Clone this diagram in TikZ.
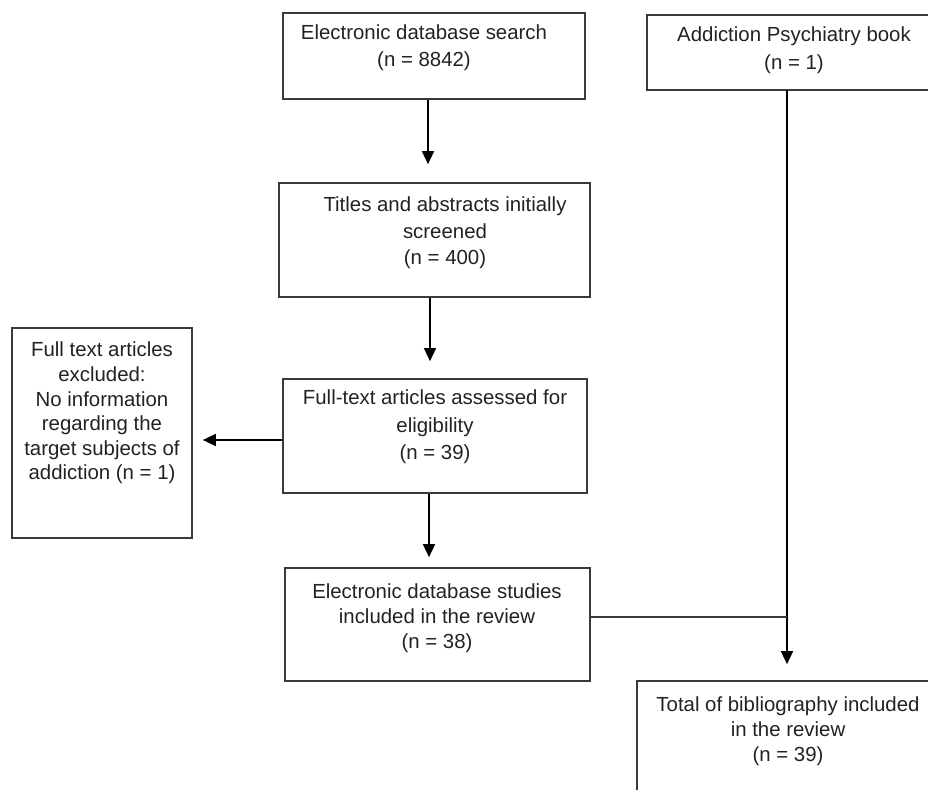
\documentclass[tikz,border=0pt]{standalone}
\usepackage{fontspec}
\setmainfont{Liberation Sans}
\usetikzlibrary{arrows.meta}
\definecolor{boxline}{HTML}{3A3A3A}
\definecolor{txt}{HTML}{222222}
\tikzset{
  box/.style={draw=boxline, line width=1.7pt, inner sep=0pt, fill=none},
  lbl/.style={anchor=north, align=center, inner sep=0pt, text=txt,
    font=\fontsize{20.4}{26.5}\selectfont},
  arr/.style={draw=black, line width=1.6pt, -{Triangle[width=12pt,length=13pt]}},
  link/.style={draw=boxline, line width=1.1pt}
}
\begin{document}
\begin{tikzpicture}[x=1pt,y=-1pt]
\useasboundingbox (0,0) rectangle (928,789);
\clip (0,0) rectangle (928,789);
% boxes
\node[box, minimum width=302pt, minimum height=86pt] (b1) at (434,56) {};
\node[box, minimum width=311pt, minimum height=114pt] (b2) at (434.5,240) {};
\node[box, minimum width=304pt, minimum height=114pt] (b3) at (435,436) {};
\node[box, minimum width=305pt, minimum height=113pt] (b4) at (437.5,624.5) {};
\node[box, minimum width=180pt, minimum height=210pt] (bl) at (102,433) {};
\node[box, minimum width=300pt, minimum height=75pt] (b5) at (797,52.5) {};
\node[box, minimum width=300pt, minimum height=130pt] (bt) at (787,746) {};
% texts
\node[lbl] (t1) at (424,25) {Electronic database search\\(n = 8842)};
\node[lbl] (t2) at (445,197) {Titles and abstracts initially\\screened\\(n = 400)};
\node[lbl, font=\fontsize{20.4}{27.5}\selectfont] (t3) at (435,390) {Full-text articles assessed for\\eligibility\\(n = 39)};
\node[lbl, font=\fontsize{20.4}{25}\selectfont] (t4) at (437,584) {Electronic database studies\\included in the review\\(n = 38)};
\node[lbl, font=\fontsize{20.4}{24.6}\selectfont] (tl) at (102,342) {Full text articles\\excluded:\\No information\\regarding the\\target subjects of\\addiction (n = 1)};
\node[lbl, font=\fontsize{20.4}{28}\selectfont] (t5) at (794,27) {Addiction Psychiatry book\\(n = 1)};
\node[lbl, font=\fontsize{20.4}{25}\selectfont] (tt) at (788,697) {Total of bibliography included\\in the review\\(n = 39)};
% connectors
\draw[arr, shorten >=18pt] ([xshift=-6pt]b1.south) -- ([xshift=-6pt]b1.south |- b2.north);
\draw[arr, shorten >=17pt] ([xshift=-4.5pt]b2.south) -- ([xshift=-4.5pt]b2.south |- b3.north);
\draw[arr, shorten >=10pt] (b3.west |- 0,440) -- (bl.east |- 0,440);
\draw[arr, shorten >=10pt] ([xshift=-6pt]b3.south) -- ([xshift=-6pt]b3.south |- b4.north);
\coordinate (top) at (787,90);
\coordinate (j) at (787,617);
\draw[arr, shorten >=16pt] (top) -- (top |- bt.north);
\draw[link] (b4.east |- j) -- (j);
\end{tikzpicture}
\end{document}
